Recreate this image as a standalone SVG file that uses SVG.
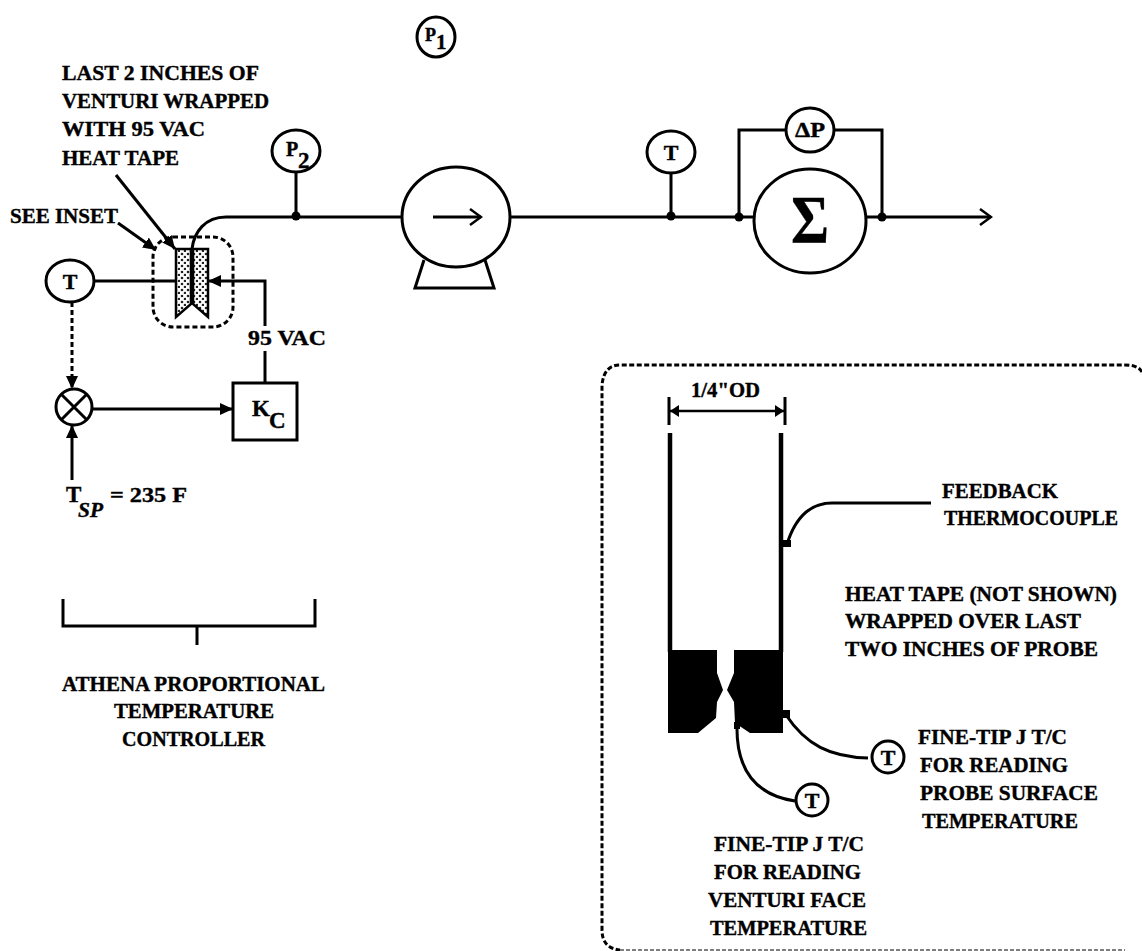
<svg xmlns="http://www.w3.org/2000/svg" width="1142" height="951" viewBox="0 0 1142 951">
<style>
text{font-family:"Liberation Serif","DejaVu Serif",serif;font-weight:bold;font-size:22px;fill:#000;stroke:#000;stroke-width:.4}
.c{fill:#fff;stroke:#000;stroke-width:3}
.l{fill:none;stroke:#000;stroke-width:3}
.d{fill:#000}
.dash{fill:none;stroke:#000;stroke-width:3;stroke-dasharray:5 3}
</style>
<defs>
<pattern id="dots" width="6" height="6" patternUnits="userSpaceOnUse"><rect width="6" height="6" fill="#fff"/><circle cx="2" cy="2" r="1.3" fill="#222"/><circle cx="5" cy="5" r="1.3" fill="#222"/></pattern>
<marker id="a" markerWidth="14" markerHeight="12" refX="13" refY="6" orient="auto" markerUnits="userSpaceOnUse"><path d="M0 0L13 6L0 12Z" fill="#000"/></marker>
<marker id="o" markerWidth="14" markerHeight="18" refX="12" refY="9" orient="auto" markerUnits="userSpaceOnUse"><path d="M1 1L12 9L1 17" fill="none" stroke="#000" stroke-width="2.5"/></marker>
<marker id="s" markerWidth="10" markerHeight="12" refX="9" refY="6" orient="auto-start-reverse" markerUnits="userSpaceOnUse"><path d="M0 0L9 6L0 12Z" fill="#000"/></marker>
</defs>
<rect width="1142" height="951" fill="#fff"/>
<g id="connectors">
<path class="l" d="M192 249C194 232 205 217 226 217L401 217M510 217L754 217M866 217L991 217" marker-end="url(#o)"/>
<path class="l" d="M296 172V216M671 173V216M739 216V130H786M834 130H882V216"/>
<path class="l" d="M94 281H176M191 281H193"/>
<path class="l" d="M265 326V281H208" marker-end="url(#a)"/>
<path class="l" d="M265 351V383"/>
<path class="dash" d="M72 302V389" marker-end="url(#a)"/>
<path class="l" d="M72 480V425" marker-end="url(#a)"/>
<path class="l" d="M92 409H233" marker-end="url(#a)"/>
<path class="l" d="M116 175L175 249" marker-end="url(#a)"/>
<path class="l" d="M118 223L156 250" marker-end="url(#a)"/>
<path class="l" d="M63 599V626H315V599M197 626V645"/>
<path class="l" d="M788 541C796 518 810 503 832 503H931"/>
<path class="l" d="M786 715C806 745 830 757 868 758"/>
<path class="l" d="M737 725C736 770 755 795 795 801"/>
</g>
<g id="dots">
<circle class="d" cx="296" cy="216" r="4.5"/><circle class="d" cx="671" cy="216" r="4.5"/><circle class="d" cx="739" cy="217" r="4.5"/><circle class="d" cx="882" cy="217" r="4.5"/>
</g>
<g id="p1"><ellipse class="c" cx="436" cy="37" rx="19" ry="20"/><text x="425" y="41" style="font-size:18px">P</text><text x="436" y="49" style="font-size:21px">1</text></g>
<g id="p2"><ellipse class="c" cx="296" cy="151" rx="24" ry="21"/><text x="286" y="156" style="font-size:20px">P</text><text x="298" y="168" style="font-size:23px">2</text></g>
<g id="t-feedback"><ellipse class="c" cx="70" cy="281" rx="24" ry="21"/><text x="70" y="289" text-anchor="middle">T</text></g>
<g id="t-main"><ellipse class="c" cx="671" cy="152" rx="24" ry="21"/><text x="671" y="160" text-anchor="middle">T</text></g>
<g id="dp"><ellipse class="c" cx="810" cy="130" rx="24" ry="22"/><text x="810" y="137" text-anchor="middle" style="font-size:20px" textLength="30" lengthAdjust="spacingAndGlyphs">ΔP</text></g>
<g id="pump"><path class="l" d="M424 260L415 288H494L485 260"/><ellipse class="c" cx="456" cy="217" rx="54" ry="50"/><path class="l" d="M433 217H481" marker-end="url(#o)"/></g>
<g id="meter"><ellipse class="c" cx="810" cy="221" rx="56" ry="52"/><text x="810" y="242" text-anchor="middle" style="font-size:68px" textLength="38" lengthAdjust="spacingAndGlyphs">Σ</text></g>
<g id="inset-marker"><rect class="dash" x="153" y="237" width="80" height="90" rx="20"/></g>
<g id="venturi" stroke="#000" stroke-width="2.5" fill="url(#dots)"><path d="M176 249H191V304L176 317Z"/><path d="M193 249H208V317L193 304Z"/></g>
<g id="summer"><circle class="c" cx="74" cy="407" r="18"/><path class="l" d="M61 394L87 420M87 394L61 420"/></g>
<g id="kc"><rect class="c" x="233" y="383" width="64" height="57"/><text x="252" y="416" style="font-size:23px">K</text><text x="269" y="428" style="font-size:23px">C</text></g>
<g id="labels-left">
<text x="62" y="80" textLength="197" lengthAdjust="spacingAndGlyphs">LAST 2 INCHES OF</text>
<text x="62" y="108" textLength="207" lengthAdjust="spacingAndGlyphs">VENTURI WRAPPED</text>
<text x="62" y="136" textLength="143" lengthAdjust="spacingAndGlyphs">WITH 95 VAC</text>
<text x="62" y="165" textLength="117" lengthAdjust="spacingAndGlyphs">HEAT TAPE</text>
<text x="10" y="223" textLength="108" lengthAdjust="spacingAndGlyphs">SEE INSET</text>
<text x="248" y="345" textLength="78" lengthAdjust="spacingAndGlyphs">95 VAC</text>
<text x="66" y="502" style="font-size:23px">T</text>
<text x="78" y="517" font-style="italic" style="font-size:21px" textLength="25" lengthAdjust="spacingAndGlyphs">SP</text>
<text x="110" y="502" textLength="77" lengthAdjust="spacingAndGlyphs">= 235 F</text>
<text x="62" y="691" textLength="263" lengthAdjust="spacingAndGlyphs">ATHENA PROPORTIONAL</text>
<text x="114" y="718" textLength="160" lengthAdjust="spacingAndGlyphs">TEMPERATURE</text>
<text x="122" y="746" textLength="143" lengthAdjust="spacingAndGlyphs">CONTROLLER</text>
</g>
<g id="inset">
<path fill="none" stroke="#000" stroke-width="3" stroke-dasharray="5 2.5" d="M1142 372Q1138 365 1125 365H620Q604 365 602 385V930Q602 948 620 950"/>
<path fill="none" stroke="#555" stroke-width="1.5" stroke-dasharray="4 2" d="M620 950H1125"/>
<path class="l" d="M669 397V425M785 397V425"/>
<path fill="none" stroke="#000" stroke-width="2.5" d="M670 411H784" marker-start="url(#s)" marker-end="url(#s)"/>
<text x="691" y="397" textLength="69" lengthAdjust="spacingAndGlyphs" style="font-size:20px">1/4"OD</text>
<path fill="none" stroke="#000" stroke-width="4.5" d="M670 433V652M781 433V652"/>
<path class="d" d="M668 650H717V673L723 690L717 702L716 718L698 733H668Z"/>
<path class="d" d="M734 650H783V733H750L735 723L734 702L727 690L734 673Z"/>
<rect class="d" x="783" y="540" width="8" height="7"/>
<rect class="d" x="783" y="710" width="7" height="8"/>
<rect class="d" x="734" y="722" width="6" height="7"/>
<g id="t-surface"><ellipse class="c" cx="888" cy="757" rx="16" ry="16"/><text x="888" y="765" text-anchor="middle">T</text></g>
<g id="t-face"><ellipse class="c" cx="812" cy="800" rx="16" ry="16"/><text x="812" y="808" text-anchor="middle">T</text></g>
<text x="942" y="498" textLength="116" lengthAdjust="spacingAndGlyphs">FEEDBACK</text>
<text x="944" y="525" textLength="174" lengthAdjust="spacingAndGlyphs">THERMOCOUPLE</text>
<text x="845" y="601" textLength="272" lengthAdjust="spacingAndGlyphs">HEAT TAPE (NOT SHOWN)</text>
<text x="845" y="628" textLength="236" lengthAdjust="spacingAndGlyphs">WRAPPED OVER LAST</text>
<text x="845" y="656" textLength="253" lengthAdjust="spacingAndGlyphs">TWO INCHES OF PROBE</text>
<text x="918" y="744" textLength="149" lengthAdjust="spacingAndGlyphs">FINE-TIP J T/C</text>
<text x="920" y="772" textLength="148" lengthAdjust="spacingAndGlyphs">FOR READING</text>
<text x="920" y="800" textLength="178" lengthAdjust="spacingAndGlyphs">PROBE SURFACE</text>
<text x="922" y="828" textLength="156" lengthAdjust="spacingAndGlyphs">TEMPERATURE</text>
<text x="714" y="851" textLength="150" lengthAdjust="spacingAndGlyphs">FINE-TIP J T/C</text>
<text x="714" y="879" textLength="147" lengthAdjust="spacingAndGlyphs">FOR READING</text>
<text x="708" y="907" textLength="158" lengthAdjust="spacingAndGlyphs">VENTURI FACE</text>
<text x="710" y="935" textLength="157" lengthAdjust="spacingAndGlyphs">TEMPERATURE</text>
</g>
</svg>
